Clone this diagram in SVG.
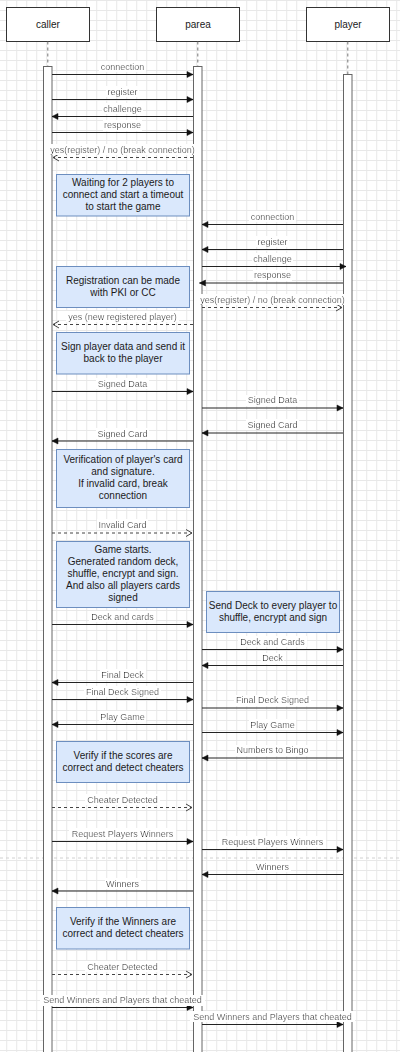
<svg xmlns="http://www.w3.org/2000/svg" width="400" height="1052" viewBox="0 0 400 1052">
<defs>
<style>
text{font-family:"Liberation Sans",Arial,Helvetica,sans-serif;fill:#1a1a1a}
.hd{fill:#fff;stroke:#333;stroke-width:1}
.ht{font-size:10px;text-anchor:middle}
.ll{stroke:#777;stroke-width:1;stroke-dasharray:3 3;fill:none}
.act{fill:#fff;stroke:#666;stroke-width:1}
.note{fill:#dae8fc;stroke:#6c8ebf;stroke-width:1}
.nt{font-size:10px;text-anchor:middle}
.m{stroke:#222;stroke-width:1;fill:none;marker-end:url(#ah)}
.r{stroke:#444;stroke-width:1;fill:none;stroke-dasharray:3 3;marker-end:url(#oa)}
.lb{font-size:9px;text-anchor:middle;filter:url(#lbg)}
</style>
<pattern id="grid" x="6.2" y="0" width="10" height="10" patternUnits="userSpaceOnUse">
<path d="M0.5,0V10M0,0.5H10" stroke="#e8e8e8" stroke-width="1" fill="none"/>
</pattern>
<marker id="ah" markerUnits="userSpaceOnUse" markerWidth="7" markerHeight="7" refX="6" refY="3" orient="auto" overflow="visible">
<path d="M0,0L6,3L0,6z" fill="#111" stroke="#111" stroke-width="0.5"/>
</marker>
<marker id="oa" markerUnits="userSpaceOnUse" markerWidth="8" markerHeight="8" refX="6" refY="3.5" orient="auto" overflow="visible">
<path d="M0,0L6,3.5L0,7" fill="none" stroke="#444" stroke-width="1"/>
</marker>
<filter id="lbg" x="-0.02" y="0" width="1.04" height="1">
<feFlood flood-color="#ffffff"/>
<feComposite in="SourceGraphic" operator="over"/>
</filter>
</defs>
<rect width="400" height="1052" fill="#fff"/>
<rect width="400" height="1052" fill="url(#grid)"/>
<line x1="0" y1="858" x2="400" y2="858" stroke="#d0d0d0" stroke-width="1" stroke-dasharray="3 3"/>

<g id="caller">
<rect class="hd" x="6.5" y="7.5" width="83" height="34"/>
<text class="ht" x="48" y="27.8">caller</text>
<line class="ll" x1="47.8" y1="41.5" x2="47.8" y2="66"/>
<rect class="act" x="43.5" y="66.5" width="8.5" height="990"/>
</g>
<g id="parea">
<rect class="hd" x="156.5" y="7.5" width="83" height="34"/>
<text class="ht" x="198" y="27.8">parea</text>
<line class="ll" x1="197.8" y1="41.5" x2="197.8" y2="66"/>
<rect class="act" x="193.5" y="66.5" width="8.5" height="990"/>
</g>
<g id="player">
<rect class="hd" x="306.5" y="7.5" width="83" height="34"/>
<text class="ht" x="348" y="27.8">player</text>
<line class="ll" x1="347.8" y1="41.5" x2="347.8" y2="74"/>
<rect class="act" x="343.5" y="74.5" width="8.5" height="990"/>
</g>

<g id="note1">
<rect class="note" x="56.5" y="174.5" width="133" height="41.5"/>
<text class="nt" x="123" y="186.2">Waiting for 2 players to</text>
<text class="nt" x="123" y="197.8">connect and start a timeout</text>
<text class="nt" x="123" y="209.5">to start the game</text>
</g>
<g id="note2">
<rect class="note" x="56.5" y="266.5" width="133" height="41"/>
<text class="nt" x="123" y="283.8">Registration can be made</text>
<text class="nt" x="123" y="295.8">with PKI or CC</text>
</g>
<g id="note3">
<rect class="note" x="56.5" y="332.5" width="133" height="41.5"/>
<text class="nt" x="123" y="350.2">Sign player data and send it</text>
<text class="nt" x="123" y="361.8">back to the player</text>
</g>
<g id="note4">
<rect class="note" x="56.5" y="449.5" width="133" height="58"/>
<text class="nt" x="123" y="462.5">Verification of player's card</text>
<text class="nt" x="123" y="474.5">and signature.</text>
<text class="nt" x="123" y="486.8">If invalid card, break</text>
<text class="nt" x="123" y="498.5">connection</text>
</g>
<g id="note5">
<rect class="note" x="56.5" y="541.5" width="133" height="66"/>
<text class="nt" x="123" y="552.8">Game starts.</text>
<text class="nt" x="123" y="564.8">Generated random deck,</text>
<text class="nt" x="123" y="576.8">shuffle, encrypt and sign.</text>
<text class="nt" x="123" y="588.8">And also all players cards</text>
<text class="nt" x="123" y="600.8">signed</text>
</g>
<g id="note6">
<rect class="note" x="206.5" y="591.5" width="133" height="41"/>
<text class="nt" x="273" y="609.2">Send Deck to every player to</text>
<text class="nt" x="273" y="621.2">shuffle, encrypt and sign</text>
</g>
<g id="note7">
<rect class="note" x="56.5" y="741.5" width="133" height="41"/>
<text class="nt" x="123" y="759.2">Verify if the scores are</text>
<text class="nt" x="123" y="771.2">correct and detect cheaters</text>
</g>
<g id="note8">
<rect class="note" x="56.5" y="907.5" width="133" height="41.5"/>
<text class="nt" x="123" y="924.8">Verify if the Winners are</text>
<text class="nt" x="123" y="936.8">correct and detect cheaters</text>
</g>

<g id="connectors">
<path class="m" d="M52,74.5H193"/><text class="lb" x="122.5" y="69.9">connection</text>
<path class="m" d="M52,99.5H193"/><text class="lb" x="122.5" y="94.9">register</text>
<path class="m" d="M193,116.5H52"/><text class="lb" x="122.5" y="111.9">challenge</text>
<path class="m" d="M52,132.5H193"/><text class="lb" x="122.5" y="128.2">response</text>
<path class="r" d="M193,157.5H53"/><text class="lb" x="122.5" y="152.9">yes(register) / no (break connection)</text>

<path class="m" d="M343,224.5H202"/><text class="lb" x="272.5" y="219.9">connection</text>
<path class="m" d="M343,249.5H202"/><text class="lb" x="272.5" y="244.9">register</text>
<path class="m" d="M202,266.5H346"/><text class="lb" x="272.5" y="261.9">challenge</text>
<path class="m" d="M343,283H199.5"/><text class="lb" x="272.5" y="278.2">response</text>
<path class="r" d="M202,307.5H342"/><text class="lb" x="272.5" y="302.9">yes(register) / no (break connection)</text>
<path class="r" d="M193,324.5H53"/><text class="lb" x="122.5" y="319.9">yes (new registered player)</text>

<path class="m" d="M52,391.5H193"/><text class="lb" x="122.5" y="386.9">Signed Data</text>
<path class="m" d="M202,408H343"/><text class="lb" x="272.5" y="403.2">Signed Data</text>
<path class="m" d="M343,433H202"/><text class="lb" x="272.5" y="427.9">Signed Card</text>
<path class="m" d="M193,441H52"/><text class="lb" x="122.5" y="436.9">Signed Card</text>

<path class="r" d="M52,533H192"/><text class="lb" x="122.5" y="527.9">Invalid Card</text>
<path class="m" d="M52,624.5H193"/><text class="lb" x="122.5" y="619.9">Deck and cards</text>
<path class="m" d="M202,649.5H343"/><text class="lb" x="272.5" y="644.9">Deck and Cards</text>
<path class="m" d="M343,665.5H202"/><text class="lb" x="272.5" y="661.2">Deck</text>
<path class="m" d="M193,682.5H52"/><text class="lb" x="122.5" y="677.9">Final Deck</text>
<path class="m" d="M52,699.5H193"/><text class="lb" x="122.5" y="694.9">Final Deck Signed</text>
<path class="m" d="M202,708H343"/><text class="lb" x="272.5" y="703.2">Final Deck Signed</text>
<path class="m" d="M193,724.5H52"/><text class="lb" x="122.5" y="719.9">Play Game</text>
<path class="m" d="M202,732.5H343"/><text class="lb" x="272.5" y="727.9">Play Game</text>
<path class="m" d="M343,758H202"/><text class="lb" x="272.5" y="753.2">Numbers to Bingo</text>
<path class="r" d="M52,807.5H192"/><text class="lb" x="122.5" y="802.5">Cheater Detected</text>
<path class="m" d="M52,841.5H193"/><text class="lb" x="122.5" y="836.5">Request Players Winners</text>
<path class="m" d="M202,849.5H343"/><text class="lb" x="272.5" y="844.9">Request Players Winners</text>
<path class="m" d="M343,874.5H202"/><text class="lb" x="272.5" y="869.7">Winners</text>
<path class="m" d="M193,891H52"/><text class="lb" x="122.5" y="886.9">Winners</text>
<path class="r" d="M52,974.5H192"/><text class="lb" x="122.5" y="969.5">Cheater Detected</text>
<path class="m" d="M52,1007.5H193"/><text class="lb" x="122.5" y="1003.2">Send Winners and Players that cheated</text>
<path class="m" d="M202,1024.5H343"/><text class="lb" x="272.5" y="1019.9">Send Winners and Players that cheated</text>
</g>
</svg>
